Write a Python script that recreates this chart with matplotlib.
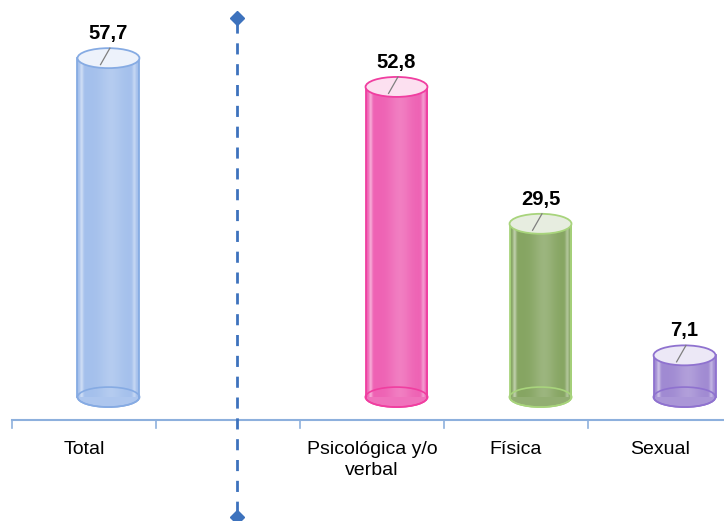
import numpy as np
import matplotlib.pyplot as plt
from matplotlib.patches import Ellipse, Rectangle
from matplotlib.colors import to_rgb

categories = ['Total', '', 'Psicológica y/o\nverbal', 'Física', 'Sexual']
values = [57.7, None, 52.8, 29.5, 7.1]
labels = ['57,7', '', '52,8', '29,5', '7,1']
fills = ['#a4c0ec', None, '#ee62b4', '#86a562', '#a08ad2']
edges = ['#86abe3', None, '#f03ea0', '#a8d47c', '#8f72cf']

fam = ['Liberation Sans Narrow', 'Liberation Sans', 'DejaVu Sans']

fig = plt.figure(figsize=(7.24, 5.21), dpi=100)
ax = fig.add_axes([0, 0, 1, 1])
ax.set_xlim(-0.583, 4.444)
ax.set_ylim(-21.1, 67.6)
ax.axis('off')

off = 0.17      # depth offset of the cylinders
w = 0.43        # cylinder width
e = 3.4         # ellipse height (data units)


def lighten(c, f):
    r = np.array(to_rgb(c))
    return tuple(r + (1 - r) * f)


t = np.linspace(0, 1, 80)
# light stripes near the sides, slightly lighter centre
shade = (0.45 * np.exp(-((t - 0.07) / 0.03) ** 2)
         + 0.35 * np.exp(-((t - 0.93) / 0.03) ** 2)
         + 0.18 * np.exp(-((t - 0.55) / 0.18) ** 2))

for i, v in enumerate(values):
    if v is None:
        continue
    cx = i + off
    x0 = cx - w / 2
    base = np.array(to_rgb(fills[i]))
    img = np.array([[base + (1 - base) * s for s in shade]])
    body = Rectangle((x0, 0), w, v, transform=ax.transData)
    im = ax.imshow(img, extent=[x0, x0 + w, 0, v], aspect='auto',
                   origin='lower', zorder=2)
    im.set_clip_path(body)
    ax.plot([x0, x0], [0, v], color=edges[i], lw=1.3, zorder=3)
    ax.plot([x0 + w, x0 + w], [0, v], color=edges[i], lw=1.3, zorder=3)
    # bottom ellipse
    ax.add_patch(Ellipse((cx, 0), w, e, facecolor=lighten(fills[i], 0.1),
                         edgecolor=edges[i], lw=1.2, zorder=1.5))
    ax.add_patch(Ellipse((cx, 0), w, e, facecolor='none',
                         edgecolor=edges[i], lw=1.2, zorder=3))
    # top ellipse
    ax.add_patch(Ellipse((cx, v), w, e, facecolor=lighten(fills[i], 0.8),
                         edgecolor=edges[i], lw=1.3, zorder=4))
    # leader line
    ax.plot([cx - 0.055, cx + 0.01], [v - 1.1, v + e / 2], color='#7f7f7f',
            lw=0.9, zorder=5)
    ax.text(cx, v + e / 2 + 0.9, labels[i], ha='center', va='bottom',
            fontsize=14.5, fontweight='bold', family=fam, zorder=6)

# category axis
ax.plot([-0.5, 4.6], [-3.9, -3.9], color='#8db0dd', lw=1.5, zorder=1)
for b in np.arange(len(categories) + 1) - 0.5:
    ax.plot([b, b], [-3.9, -5.3], color='#8db0dd', lw=1.2, zorder=1)
for i, c in enumerate(categories):
    ax.text(i, -7.4, c, ha='center', va='top', fontsize=14, family=fam,
            linespacing=1.35)

# dashed separator
sep = 1.06
ax.plot([sep, sep], [63.9, -20.0], color='#3d72bd', lw=2, ls=(0, (4, 3.5)),
        zorder=2)
ax.plot([sep, sep], [64.5, -20.4], ls='none', marker='D', ms=7,
        color='#3d72bd', zorder=3)

fig.savefig('out.png', dpi=100)
